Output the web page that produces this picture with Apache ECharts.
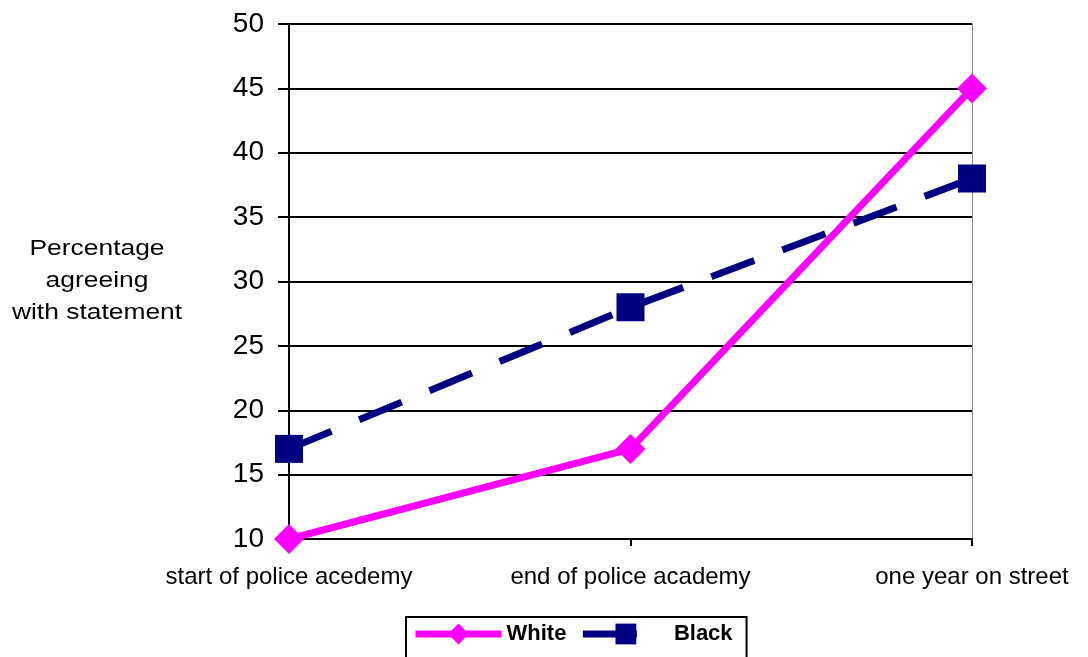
<!DOCTYPE html>
<html>
<head>
<meta charset="utf-8">
<script src="https://cdn.jsdelivr.net/npm/echarts@6/dist/echarts.min.js"></script>
<style>
  html, body { margin: 0; padding: 0; background: #fff; }
  #chart { width: 1088px; height: 657px; }
</style>
</head>
<body>
<div id="chart"></div>
<script>
// Stages of a police career
const categories = ['start of police acedemy', 'end of police academy', 'one year on street'];
// Percentage agreeing with the statement, by officer race
const whiteValues = [10, 17, 45];
const blackValues = [17, 28, 38];
const yTicks = { min: 10, max: 50, step: 5 };

const FONT = '"Liberation Sans", Arial, sans-serif';
const chart = echarts.init(document.getElementById('chart'), null, { renderer: 'canvas' });

chart.setOption({
  animation: false,
  backgroundColor: '#fff',
  textStyle: { fontFamily: FONT },
  grid: { left: 289, right: 116, top: 24, bottom: 118 },
  legend: {
    left: 406,
    top: 617,
    padding: [6, 14, 40, 6],
    borderColor: '#000',
    borderWidth: 2,
    itemWidth: 86,
    itemHeight: 26,
    itemGap: 13,
    textStyle: { fontFamily: FONT, fontSize: 22, fontWeight: 'bold', color: '#000' },
    data: [
      { name: 'White', lineStyle: { width: 7 } },
      { name: 'Black', lineStyle: { width: 7, type: [54, 40] } }
    ]
  },
  xAxis: {
    type: 'category',
    data: categories,
    boundaryGap: false,
    axisLine: { lineStyle: { color: '#000', width: 2 } },
    axisTick: { show: true, length: 7, lineStyle: { color: '#000', width: 2 } },
    axisLabel: { color: '#000', fontSize: 24, fontFamily: FONT, margin: 26, interval: 0 },
    splitLine: { show: false }
  },
  yAxis: [{
    type: 'value',
    min: yTicks.min,
    max: yTicks.max,
    interval: yTicks.step,
    axisLine: { show: true, lineStyle: { color: '#000', width: 2 } },
    axisTick: { show: true, length: 11, lineStyle: { color: '#000', width: 2 } },
    axisLabel: { color: '#000', fontSize: 28, fontFamily: FONT, margin: 25 },
    splitLine: { show: true, lineStyle: { color: '#000', width: 2 } }
  }, {
    // thin right-hand frame of the plot area
    type: 'value',
    position: 'right',
    min: yTicks.min,
    max: yTicks.max,
    interval: yTicks.step,
    axisLine: { show: true, lineStyle: { color: '#888', width: 1 } },
    axisTick: { show: false },
    axisLabel: { show: false },
    splitLine: { show: false }
  }],
  graphic: [{
    type: 'text',
    x: 97,
    y: 281,
    scaleX: 1.2,
    style: {
      text: 'Percentage\nagreeing\nwith statement',
      x: 0, y: 0,
      align: 'center',
      verticalAlign: 'middle',
      fill: '#000',
      fontFamily: FONT,
      fontSize: 22,
      lineHeight: 32
    }
  }],
  series: [{
    name: 'White',
    type: 'line',
    data: whiteValues,
    symbol: 'diamond',
    symbolSize: 30,
    z: 3,
    itemStyle: { color: '#ff00ff' },
    lineStyle: { color: '#ff00ff', width: 7 }
  }, {
    name: 'Black',
    type: 'line',
    data: blackValues,
    symbol: 'rect',
    symbolSize: 28,
    z: 2,
    itemStyle: { color: '#000080' },
    lineStyle: { color: '#000080', width: 7, type: [46, 30] }
  }]
});
</script>
</body>
</html>
